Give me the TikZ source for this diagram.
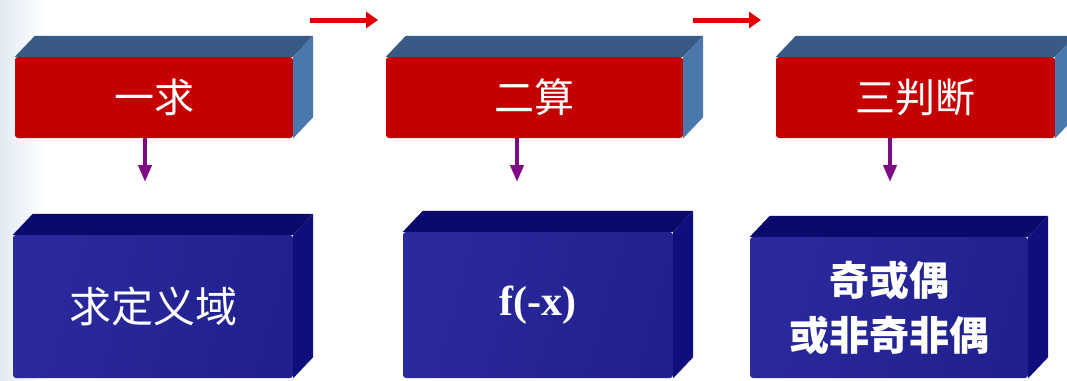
\documentclass[tikz,border=0pt]{standalone}
\usepackage{fontspec}
\setmainfont{Liberation Serif}
\newfontfamily\cjk{Noto Sans CJK SC}
\usetikzlibrary{calc,arrows.meta}

\definecolor{frontred}{HTML}{C40000}
\definecolor{topsteel}{HTML}{3A5A86}
\definecolor{sidesteel}{HTML}{4A78AC}
\definecolor{navytop}{HTML}{0A0A6C}
\definecolor{navyside}{HTML}{0E0E7C}
\definecolor{blueA}{HTML}{2A2A9E}
\definecolor{blueB}{HTML}{4E4EBC}
\definecolor{blueC}{HTML}{20208E}
\definecolor{arrowred}{HTML}{E00000}
\definecolor{arrowpurple}{HTML}{7E0A86}
\definecolor{haze}{HTML}{E2EBF3}

\tikzset{
  redfront/.style={fill=frontred, rounded corners=3pt, text=white,
    font=\cjk\fontsize{40}{40}\selectfont, inner sep=0pt, minimum height=81pt},
  bluefront/.style={rounded corners=3pt, text=white, inner sep=0pt,
    left color=blueA, middle color=blueB, right color=blueC, shading angle=75},
  bluetext/.style={font=\cjk\fontsize{42}{42}\selectfont},
  flowarrow/.style={arrowred, line width=5pt, -{Triangle[length=12pt,width=16pt]}},
  downarrow/.style={arrowpurple, line width=4pt, -{Triangle[length=17pt,width=13pt]}},
}

% top and right faces of a box whose front face is node #1
\newcommand\boxfaces[3]{%
  \fill[#2] (#1.north west) -- ++(20pt,21pt) -- ($(#1.north east)+(20pt,21pt)$)
     -- (#1.north east) -- cycle;
  \fill[#3] (#1.north east) -- ++(20pt,21pt) -- ($(#1.south east)+(20pt,21pt)$)
     -- (#1.south east) -- cycle;
}

\begin{document}
\begin{tikzpicture}[x=1pt,y=-1pt]
\useasboundingbox (0,0) rectangle (1067,380);
\clip (0,0) rectangle (1067,380);

% soft tint along the left edge
\fill[left color=haze, right color=white] (0,0) rectangle (45,380);

% upper row: the three steps
\node[redfront, minimum width=278pt] (r1) at (154,97.5) {一求};
\node[redfront, minimum width=297pt] (r2) at (534.5,97.5) {二算};
\node[redfront, minimum width=279pt] (r3) at (915.5,97.5) {三判断};
\boxfaces{r1}{topsteel}{sidesteel}
\boxfaces{r2}{topsteel}{sidesteel}
\boxfaces{r3}{topsteel}{sidesteel}

% lower row: what each step does
\node[bluefront, minimum width=280pt, minimum height=143pt] (b1) at (153,306.5) {};
\node[bluefront, minimum width=270pt, minimum height=146pt] (b2) at (538,305) {};
\node[bluefront, minimum width=278pt, minimum height=141pt] (b3) at (889,307.5) {};
\boxfaces{b1}{navytop}{navyside}
\boxfaces{b2}{navytop}{navyside}
\boxfaces{b3}{navytop}{navyside}

\node[bluetext, text=white] (t1) at (b1) {求定义域};
\node[text=white, font=\bfseries\fontsize{42}{42}\selectfont] (t2) at (b2) {f(-x)};
\node[text=white, align=center, font=\cjk\bfseries\fontsize{40}{55}\selectfont] (t3) at (b3) {奇或偶\\或非奇非偶};

% arrows between the steps
\coordinate (f1s) at (310,20);
\coordinate (f1e) at (378,20);
\coordinate (f2s) at (693,20);
\coordinate (f2e) at (761,20);
\draw[flowarrow] (f1s) -- (f1e);
\draw[flowarrow] (f2s) -- (f2e);

% arrows from each step downwards
\coordinate (p1) at (145,182);
\coordinate (p2) at (517,182);
\coordinate (p3) at (890,182);
\draw[downarrow] (r1.south -| p1) -- (p1);
\draw[downarrow] (r2.south -| p2) -- (p2);
\draw[downarrow] (r3.south -| p3) -- (p3);
\end{tikzpicture}
\end{document}
